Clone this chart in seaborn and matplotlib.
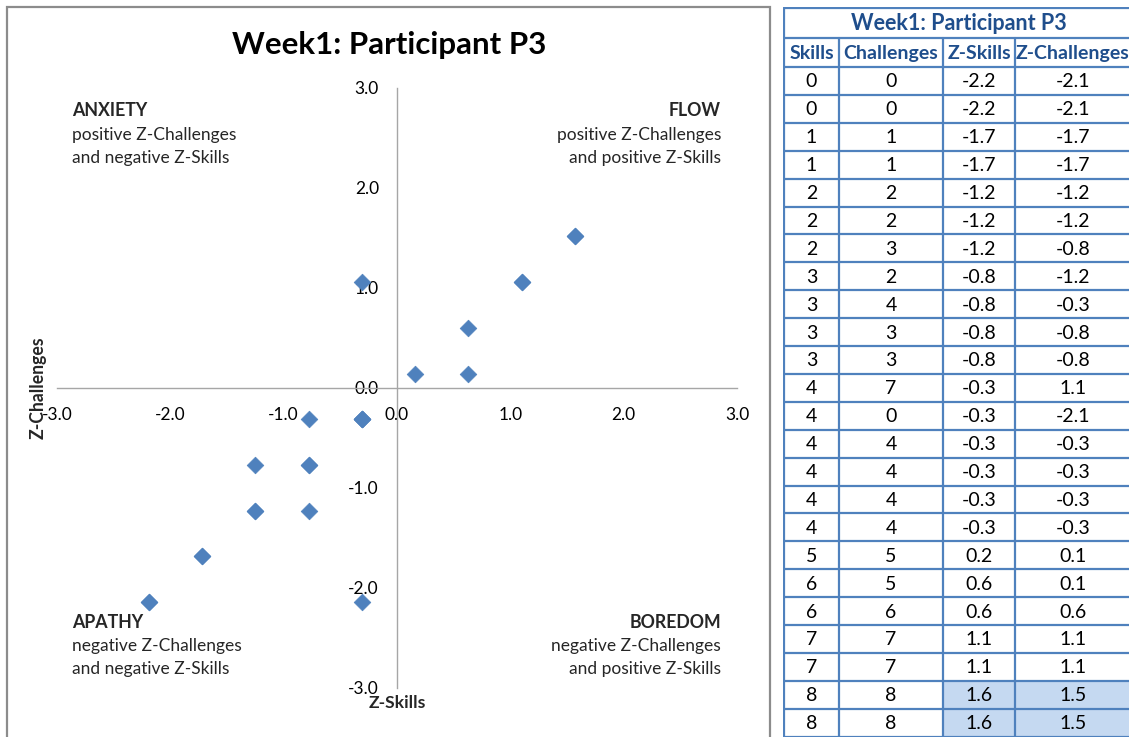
import matplotlib
matplotlib.use("Agg")
import matplotlib.pyplot as plt
from matplotlib.patches import Rectangle
import seaborn as sns
import pandas as pd

# Raw scores and their z-scores for each session
skills = [0, 0, 1, 1, 2, 2, 2, 3, 3, 3, 3, 4, 4, 4, 4, 4, 4, 5, 6, 6, 7, 7, 8, 8]
challenges = [0, 0, 1, 1, 2, 2, 3, 2, 4, 3, 3, 7, 0, 4, 4, 4, 4, 5, 5, 6, 7, 7, 8, 8]
z_skills = [-2.19, -2.19, -1.72, -1.72, -1.25, -1.25, -1.25, -0.78, -0.78, -0.78,
            -0.78, -0.31, -0.31, -0.31, -0.31, -0.31, -0.31, 0.16, 0.63, 0.63,
            1.10, 1.10, 1.57, 1.57]
z_challenges = [-2.14, -2.14, -1.68, -1.68, -1.23, -1.23, -0.77, -1.23, -0.31, -0.77,
                -0.77, 1.06, -2.14, -0.31, -0.31, -0.31, -0.31, 0.14, 0.14, 0.60,
                1.06, 1.06, 1.52, 1.52]
highlight_rows = [22, 23]

title = "Week1: Participant P3"
columns = ["Skills", "Challenges", "Z-Skills", "Z-Challenges"]
axis_ticks = [-3.0, -2.0, -1.0, 0.0, 1.0, 2.0, 3.0]

quadrants = [
    ("ANXIETY", "positive Z-Challenges", "and negative Z-Skills", "left", "top"),
    ("FLOW", "positive Z-Challenges", "and positive Z-Skills", "right", "top"),
    ("APATHY", "negative Z-Challenges", "and negative Z-Skills", "left", "bottom"),
    ("BOREDOM", "negative Z-Challenges", "and positive Z-Skills", "right", "bottom"),
]

df = pd.DataFrame({"Skills": skills, "Challenges": challenges,
                   "Z-Skills": z_skills, "Z-Challenges": z_challenges})

sns.set_theme(style="white")
plt.rcParams["font.family"] = ["Lato", "DejaVu Sans"]

W, H = 1129, 737
fig = plt.figure(figsize=(W / 100, H / 100), dpi=100)


def fx(px):
    return px / W


def fy(py):
    return 1 - py / H


# chart frame
fig.patches.append(Rectangle((fx(7), fy(745)), fx(770) - fx(7), fy(7) - fy(745),
                             transform=fig.transFigure, fill=False,
                             edgecolor="#8c8c8c", linewidth=1.6))

AX_L, AX_R, AX_T, AX_B = 57, 737, 88, 688
ax = fig.add_axes([fx(AX_L), fy(AX_B), fx(AX_R) - fx(AX_L), fy(AX_T) - fy(AX_B)])
ax.set_facecolor("none")

sns.scatterplot(data=df, x="Z-Skills", y="Z-Challenges", ax=ax, marker="D",
                s=72, color="#4F81BD", edgecolor="#4F81BD", linewidth=0.5,
                zorder=3, clip_on=False)

ax.set_xlim(-3, 3)
ax.set_ylim(-3, 3)
ax.set_xticks(axis_ticks)
ax.set_yticks(axis_ticks)
ax.set_xticklabels([f"{t:.1f}" for t in axis_ticks])
ax.set_yticklabels([f"{t:.1f}" for t in axis_ticks])
for side in ("top", "right"):
    ax.spines[side].set_visible(False)
for side in ("left", "bottom"):
    ax.spines[side].set_position(("data", 0))
    ax.spines[side].set_color("#a6a6a6")
    ax.spines[side].set_linewidth(1.0)
ax.tick_params(axis="both", direction="out", length=6, width=1.0,
               color="#a6a6a6", labelsize=12.5, labelcolor="#000000")
ax.tick_params(axis="x", pad=8)
ax.tick_params(axis="y", pad=7)
ax.set_xlabel("")
ax.set_ylabel("")
ax.grid(False)

fig.text(fx(389), fy(45), title, ha="center", va="center",
         fontsize=22.5, fontweight="bold", color="#000000")
fig.text(fx(38), fy(388), "Z-Challenges", rotation=90, ha="center", va="center",
         fontsize=12.7, fontweight="bold")
fig.text(fx(397), fy(703), "Z-Skills", ha="center", va="center",
         fontsize=12.6, fontweight="bold")

for head, line1, line2, halign, vpos in quadrants:
    x = 72 if halign == "left" else 721
    y0 = 111 if vpos == "top" else 622
    fig.text(fx(x), fy(y0), head, ha=halign, va="center",
             fontsize=12.8, fontweight="bold")
    fig.text(fx(x), fy(y0 + 24), line1, ha=halign, va="center", fontsize=12.5)
    fig.text(fx(x), fy(y0 + 47), line2, ha=halign, va="center", fontsize=12.5)

# data table
T_L, T_R, T_T, T_B = 783, 1140, 7, 737
tax = fig.add_axes([fx(T_L), fy(T_B), fx(T_R) - fx(T_L), fy(T_T) - fy(T_B)])
tax.set_xlim(T_L, T_R)
tax.set_ylim(T_B, T_T)
tax.axis("off")

col_edges = [784, 839, 943, 1015, 1140]
title_bottom, header_bottom = 38, 67
row_h = 27.9
row_edges = [header_bottom + i * row_h for i in range(len(skills) + 1)]
blue_line = "#4F81BD"
head_color = "#1F4E8C"

for i in highlight_rows:
    for c in (2, 3):
        tax.add_patch(Rectangle((col_edges[c], row_edges[i]),
                                col_edges[c + 1] - col_edges[c], row_h,
                                facecolor="#C5D9F1", edgecolor="none", zorder=1))

lw = 1.6
tax.plot([col_edges[0], col_edges[-1]], [T_T + 1, T_T + 1], color=blue_line, lw=lw, zorder=2)
tax.plot([col_edges[0], col_edges[-1]], [title_bottom, title_bottom], color=blue_line, lw=lw, zorder=2)
for yv in row_edges:
    tax.plot([col_edges[0], col_edges[-1]], [yv, yv], color=blue_line, lw=lw, zorder=2)
tax.plot([col_edges[0], col_edges[0]], [T_T + 1, T_B + 5], color=blue_line, lw=lw, zorder=2)
for xv in col_edges[1:-1]:
    tax.plot([xv, xv], [title_bottom, T_B + 5], color=blue_line, lw=lw, zorder=2)

tax.text(959, (T_T + title_bottom) / 2 + 1, title, ha="center", va="center",
         fontsize=15.5, fontweight="bold", color=head_color)
centers = [(col_edges[c] + col_edges[c + 1]) / 2 for c in range(4)]
centers[3] = 1073
for c, name in enumerate(columns):
    tax.text(centers[c], (title_bottom + header_bottom) / 2 + 1, name,
             ha="center", va="center", fontsize=14, fontweight="bold",
             color=head_color)

for i, row in df.iterrows():
    yc = row_edges[i] + row_h / 2 + 1
    vals = [f"{int(row['Skills'])}", f"{int(row['Challenges'])}",
            f"{row['Z-Skills']:.1f}", f"{row['Z-Challenges']:.1f}"]
    for c, v in enumerate(vals):
        tax.text(centers[c], yc, v, ha="center", va="center", fontsize=14,
                 color="#000000", zorder=3)

fig.savefig("out.png", dpi=100)
